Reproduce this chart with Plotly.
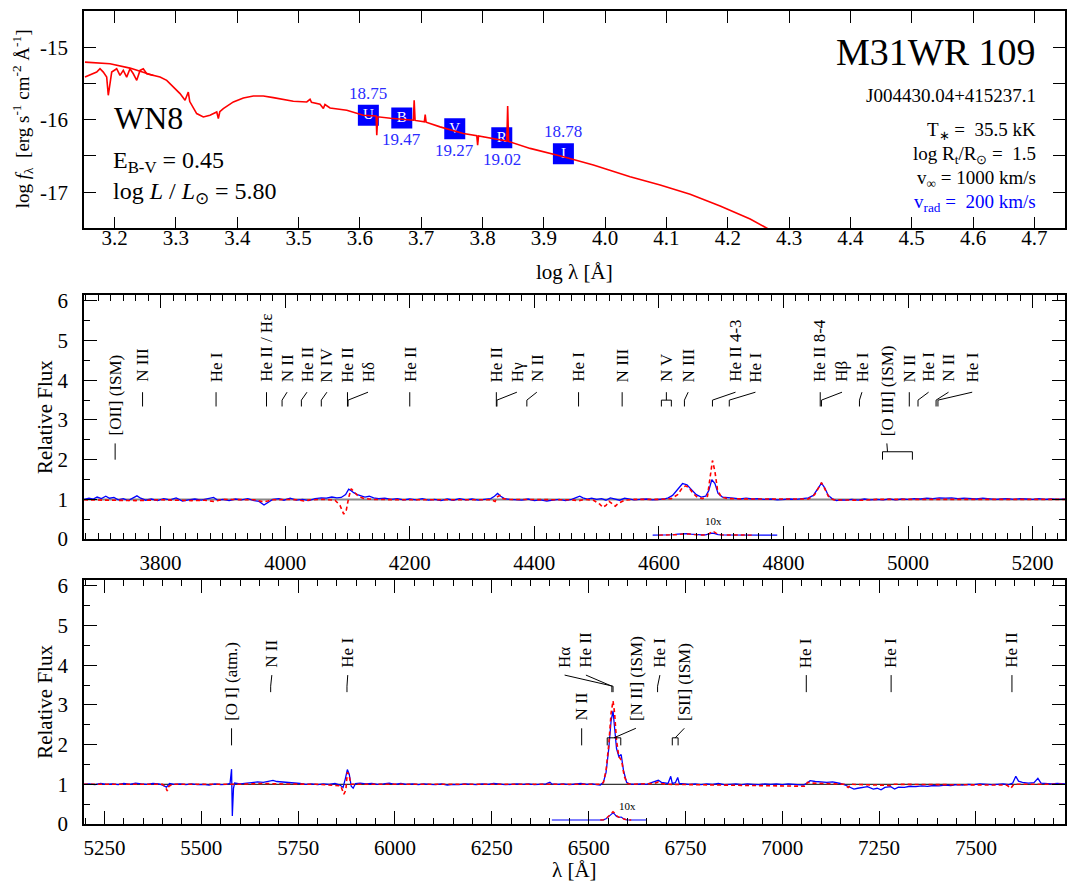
import plotly.graph_objects as go

FONT = "Liberation Serif"

# ---------------- data: top panel (SED) ----------------
SED_SMOOTH = [[3.1516, -15.206], [3.1924, -15.228], [3.225, -15.288], [3.2467, -15.343], [3.2631, -15.389]]
SED_MODEL = [
    [3.1516, -15.412], [3.1598, -15.38], [3.1707, -15.343], [3.1761, -15.297], [3.1815, -15.343],
    [3.187, -15.412], [3.1896, -15.663], [3.1952, -15.343], [3.2033, -15.297], [3.2087, -15.389],
    [3.2141, -15.32], [3.2196, -15.412], [3.225, -15.297], [3.2304, -15.366], [3.236, -15.457],
    [3.2414, -15.32], [3.2467, -15.297], [3.2523, -15.366], [3.2631, -15.389], [3.274, -15.412],
    [3.2849, -15.457], [3.2957, -15.549], [3.3066, -15.64], [3.3148, -15.732], [3.3201, -15.618],
    [3.3225, -15.75], [3.3257, -15.80], [3.3338, -15.915], [3.3446, -15.962], [3.3555, -15.938],
    [3.3665, -15.893], [3.3691, -15.984], [3.3715, -15.89], [3.3772, -15.846], [3.3936, -15.755],
    [3.4099, -15.70], [3.4262, -15.673], [3.4425, -15.673], [3.4588, -15.695], [3.4751, -15.723],
    [3.4914, -15.746], [3.5133, -15.755], [3.5187, -15.718], [3.521, -15.76], [3.535, -15.787],
    [3.5404, -15.846], [3.543, -15.79], [3.5513, -15.838], [3.5786, -15.87], [3.6056, -15.938],
    [3.6265, -15.95], [3.6275, -16.213], [3.629, -15.96], [3.65, -15.98], [3.668, -15.99],
    [3.6872, -16.007], [3.6885, -15.732], [3.69, -16.01], [3.7051, -16.03], [3.7065, -15.929],
    [3.708, -16.035], [3.7308, -16.099], [3.7688, -16.19], [3.7906, -16.22], [3.792, -16.35],
    [3.7935, -16.225], [3.8396, -16.295], [3.841, -15.81], [3.8425, -16.30], [3.8776, -16.396],
    [3.9319, -16.511], [3.9808, -16.625], [4.0407, -16.786], [4.0897, -16.90], [4.1386, -17.03],
    [4.1875, -17.19], [4.2365, -17.37], [4.2772, -17.55], [4.318, -17.75],
]
PHOT_BAND = ["U", "B", "V", "R", "I"]
PHOT_LOGLAM = [3.6138, 3.6683, 3.7547, 3.8314, 3.9319]
PHOT_LOGF = [-15.938, -15.975, -16.126, -16.25, -16.47]
PHOT_MAG = ["18.75", "19.47", "19.27", "19.02", "18.78"]
PHOT_MAG_SIDE = [1, -1, -1, -1, 1]

# ---------------- data: middle panel (blue spectrum) ----------------
MID_OBS = [
    [3677, 1.00], [3685, 1.03], [3692, 1.01], [3698, 1.06], [3705, 1.02], [3712, 1.08], [3718, 1.03],
    [3725, 1.05], [3732, 0.99], [3740, 1.02], [3748, 0.97], [3755, 1.04], [3762, 1.09], [3768, 1.03],
    [3776, 0.98], [3785, 1.01], [3795, 0.97], [3805, 1.02], [3815, 0.99], [3825, 1.04], [3835, 0.96],
    [3845, 0.99], [3855, 1.01], [3865, 0.98], [3875, 1.02], [3885, 1.05], [3892, 0.98], [3900, 1.00],
    [3910, 0.97], [3920, 1.01], [3930, 0.99], [3940, 1.02], [3950, 0.97], [3958, 0.95], [3966, 0.86],
    [3972, 0.92], [3980, 1.00], [3990, 1.02], [3998, 0.98], [4008, 1.03], [4018, 0.98], [4028, 1.00],
    [4038, 0.97], [4048, 1.02], [4058, 1.04], [4066, 1.03], [4075, 1.06], [4083, 1.04], [4090, 1.05],
    [4097, 1.12], [4102, 1.26], [4106, 1.22], [4110, 1.17], [4116, 1.12], [4122, 1.08], [4128, 1.06],
    [4135, 1.08], [4142, 1.04], [4150, 1.02], [4160, 1.03], [4170, 1.00], [4180, 1.02], [4190, 0.99],
    [4200, 1.01], [4210, 0.99], [4220, 1.02], [4230, 0.98], [4240, 1.00], [4250, 0.97], [4260, 1.01],
    [4270, 0.98], [4280, 1.02], [4290, 0.99], [4300, 1.01], [4310, 0.98], [4320, 1.00], [4330, 1.02],
    [4336, 1.08], [4341, 1.15], [4346, 1.08], [4352, 1.02], [4360, 1.00], [4370, 0.99], [4380, 0.98],
    [4390, 1.01], [4400, 0.97], [4410, 0.99], [4420, 0.96], [4430, 0.98], [4440, 1.00], [4450, 0.97],
    [4460, 1.00], [4468, 1.05], [4473, 1.08], [4478, 1.04], [4485, 1.01], [4492, 1.03], [4500, 1.00],
    [4508, 1.02], [4515, 0.98], [4522, 1.04], [4530, 1.01], [4537, 0.98], [4545, 1.03], [4552, 1.02],
    [4560, 0.99], [4570, 1.00], [4580, 1.01], [4590, 0.99], [4600, 1.00], [4608, 1.01], [4615, 1.04],
    [4622, 1.10], [4630, 1.25], [4638, 1.40], [4645, 1.37], [4652, 1.25], [4660, 1.12], [4668, 1.06],
    [4675, 1.08], [4680, 1.22], [4685, 1.50], [4690, 1.40], [4695, 1.15], [4702, 1.06], [4710, 1.04],
    [4720, 1.03], [4730, 1.01], [4740, 1.03], [4750, 1.01], [4760, 1.02], [4770, 1.00], [4780, 1.01],
    [4790, 0.99], [4800, 1.00], [4810, 1.01], [4820, 1.00], [4830, 1.02], [4840, 1.04], [4848, 1.10],
    [4855, 1.28], [4861, 1.41], [4866, 1.30], [4872, 1.10], [4878, 1.02], [4885, 0.97], [4892, 0.99],
    [4900, 0.98], [4910, 1.00], [4920, 0.98], [4930, 1.01], [4940, 0.99], [4950, 1.00], [4960, 0.99],
    [4970, 1.01], [4980, 0.99], [4990, 1.01], [5000, 1.00], [5010, 1.02], [5020, 1.01], [5030, 1.03],
    [5040, 1.02], [5050, 1.04], [5060, 1.03], [5070, 1.04], [5080, 1.02], [5090, 1.03], [5100, 1.02],
    [5110, 1.01], [5120, 1.03], [5130, 1.02], [5140, 1.00], [5150, 1.01], [5160, 1.02], [5170, 1.00],
    [5180, 1.02], [5190, 1.01], [5200, 1.00], [5210, 1.02], [5220, 1.00], [5230, 1.01], [5240, 1.00],
    [5252, 1.01],
]
# middle panel (red dashed model)
MID_MOD = [
    [3677, 0.99], [3720, 0.97], [3760, 0.97], [3780, 0.98], [3800, 0.99], [3850, 0.97], [3870, 0.98],
    [3885, 0.95], [3890, 0.97], [3900, 1.00], [3950, 0.99], [3965, 0.94], [3972, 0.96], [3980, 0.99],
    [4000, 1.00], [4020, 0.99], [4030, 0.96], [4040, 0.99], [4060, 1.00], [4080, 0.98], [4088, 0.85],
    [4094, 0.63], [4098, 0.72], [4102, 1.05], [4106, 1.27], [4110, 1.20], [4116, 1.10], [4125, 1.03],
    [4140, 1.00], [4200, 0.99], [4300, 1.00], [4330, 0.99], [4337, 0.95], [4341, 1.07], [4345, 1.10],
    [4350, 1.02], [4360, 1.00], [4400, 0.99], [4460, 0.99], [4471, 0.96], [4480, 1.00], [4495, 0.98],
    [4505, 0.88], [4510, 0.80], [4515, 0.85], [4520, 0.95], [4525, 0.88], [4530, 0.83], [4535, 0.90],
    [4545, 0.98], [4560, 1.00], [4600, 1.00], [4620, 1.02], [4630, 1.12], [4638, 1.30], [4643, 1.34],
    [4648, 1.30], [4655, 1.15], [4662, 1.05], [4670, 1.02], [4678, 1.08], [4682, 1.50], [4686, 1.98],
    [4690, 1.70], [4694, 1.25], [4700, 1.06], [4710, 1.02], [4750, 1.01], [4800, 1.00], [4840, 1.01],
    [4850, 1.12], [4856, 1.30], [4861, 1.42], [4866, 1.28], [4872, 1.08], [4880, 0.99], [4920, 0.97],
    [4925, 0.98], [4950, 1.00], [5000, 1.00], [5015, 0.99], [5050, 1.00], [5100, 1.00], [5252, 1.00],
]
MID_INSET_RANGE = [4586, 4790]
MID_10X_AT = 4688

# ---------------- data: bottom panel ----------------
BOT_OBS = [
    [5197, 1.00], [5210, 1.01], [5225, 0.99], [5240, 1.02], [5255, 1.00], [5270, 1.01], [5285, 0.99],
    [5300, 1.02], [5315, 1.00], [5330, 1.03], [5345, 1.01], [5360, 1.00], [5375, 1.02], [5390, 1.01],
    [5400, 0.98], [5410, 0.93], [5418, 1.02], [5430, 1.00], [5445, 1.01], [5460, 0.99], [5475, 1.01],
    [5490, 0.99], [5505, 1.00], [5520, 0.98], [5535, 1.01], [5550, 0.99], [5565, 1.00], [5574, 1.02],
    [5578, 1.38], [5580, 0.20], [5583, 0.90], [5586, 1.03], [5600, 1.01], [5615, 1.03], [5630, 1.04],
    [5645, 1.06], [5660, 1.05], [5675, 1.07], [5685, 1.10], [5695, 1.07], [5710, 1.06], [5725, 1.05],
    [5740, 1.04], [5755, 1.02], [5770, 1.00], [5785, 1.01], [5800, 0.99], [5815, 1.01], [5830, 1.00],
    [5845, 1.02], [5858, 0.98], [5866, 0.92], [5872, 1.15], [5877, 1.37], [5882, 1.25], [5887, 0.95],
    [5892, 0.90], [5898, 1.02], [5910, 1.03], [5925, 1.01], [5940, 1.02], [5955, 1.00], [5970, 1.01],
    [5985, 1.03], [6000, 1.00], [6015, 1.02], [6030, 1.00], [6045, 1.01], [6060, 0.99], [6075, 1.01],
    [6090, 1.00], [6105, 0.99], [6120, 1.01], [6135, 0.98], [6150, 1.00], [6165, 0.99], [6180, 1.01],
    [6195, 1.00], [6210, 0.99], [6225, 1.01], [6240, 1.00], [6255, 1.02], [6270, 1.00], [6285, 0.99],
    [6300, 1.00], [6315, 1.01], [6330, 1.00], [6345, 1.01], [6360, 0.99], [6375, 1.00], [6390, 1.01],
    [6400, 1.05], [6405, 1.01], [6420, 1.00], [6435, 1.01], [6450, 0.99], [6465, 1.00], [6480, 1.02],
    [6495, 1.00], [6510, 1.01], [6520, 0.99], [6530, 0.98], [6538, 1.05], [6545, 1.30], [6552, 1.90],
    [6558, 2.60], [6563, 2.85], [6567, 2.50], [6572, 1.90], [6578, 1.70], [6584, 1.75], [6590, 1.35],
    [6598, 1.05], [6605, 1.01], [6620, 1.00], [6635, 1.01], [6650, 1.00], [6662, 1.04], [6672, 1.08],
    [6680, 1.10], [6688, 1.05], [6695, 1.03], [6705, 1.02], [6712, 1.20], [6716, 1.02], [6724, 1.04],
    [6730, 1.17], [6734, 1.02], [6745, 1.01], [6760, 1.00], [6775, 1.01], [6790, 0.99], [6805, 1.01],
    [6820, 1.00], [6835, 1.02], [6850, 0.99], [6865, 1.00], [6880, 1.01], [6895, 0.99], [6910, 1.01],
    [6925, 1.00], [6940, 0.99], [6955, 1.01], [6970, 1.00], [6985, 1.01], [7000, 0.99], [7015, 1.01],
    [7030, 1.00], [7045, 0.99], [7055, 0.98], [7065, 1.04], [7072, 1.09], [7085, 1.07], [7100, 1.06],
    [7115, 1.05], [7130, 1.06], [7140, 1.04], [7150, 1.02], [7165, 0.97], [7175, 0.92], [7185, 0.88],
    [7195, 0.90], [7205, 0.91], [7220, 0.94], [7235, 0.88], [7245, 0.90], [7255, 0.86], [7265, 0.92],
    [7280, 0.94], [7290, 0.88], [7300, 0.93], [7315, 0.92], [7330, 0.95], [7345, 0.94], [7360, 0.96],
    [7375, 0.95], [7390, 0.97], [7405, 0.96], [7420, 0.98], [7435, 0.97], [7450, 0.99], [7465, 0.98],
    [7480, 1.00], [7495, 0.99], [7510, 1.01], [7525, 1.00], [7540, 0.99], [7555, 1.00], [7570, 1.01],
    [7585, 0.99], [7595, 1.03], [7603, 1.20], [7610, 1.08], [7620, 1.05], [7635, 1.03], [7650, 1.04],
    [7660, 1.15], [7668, 1.03], [7680, 1.02], [7695, 1.01], [7710, 1.02], [7730, 1.01],
]
BOT_MOD = [
    [5197, 1.00], [5400, 1.00], [5408, 0.92], [5412, 0.83], [5416, 0.95], [5425, 1.00], [5600, 1.00],
    [5660, 1.02], [5700, 1.01], [5800, 1.00], [5860, 0.96], [5868, 0.75], [5873, 0.85], [5877, 1.30],
    [5881, 1.25], [5886, 1.00], [5895, 1.00], [6000, 1.00], [6530, 1.00], [6538, 1.04], [6545, 1.35],
    [6552, 2.00], [6558, 2.80], [6563, 3.10], [6567, 2.80], [6572, 2.10], [6578, 1.70], [6585, 1.60],
    [6592, 1.20], [6600, 1.02], [6610, 1.00], [6670, 1.02], [6680, 1.06], [6688, 1.02], [6700, 1.00],
    [7060, 0.95], [7065, 1.05], [7075, 1.03], [7100, 1.02], [7160, 1.00], [7170, 0.92], [7178, 1.00],
    [7280, 0.97], [7285, 1.00], [7580, 0.98], [7590, 0.90], [7598, 1.00], [7730, 1.00],
]
BOT_INSET_RANGE = [6404, 6651]
BOT_10X_AT = 6600

# line identifications: (label, line wavelengths, label wavelength, level)
MID_IDS = [
    ("[OII] (ISM)", [3727], 3727, "low"),
    ("N III", [3771], 3771, "high"),
    ("He I", [3889], 3889, "high"),
    ("He II / Hε", [3970], 3970, "high"),
    ("N II", [3995], 4003, "high"),
    ("He II", [4026], 4035, "high"),
    ("N IV", [4058], 4067, "high"),
    ("He II", [4100], 4100, "high"),
    ("Hδ", [4101], 4133, "high"),
    ("He II", [4200], 4200, "high"),
    ("He II", [4339], 4339, "high"),
    ("Hγ", [4340], 4372, "high"),
    ("N II", [4388], 4404, "high"),
    ("He I", [4471], 4471, "high"),
    ("N III", [4541], 4541, "high"),
    ("N V", [4604, 4620], 4612, "high"),
    ("N III", [4641], 4647, "high"),
    ("He II 4-3", [4686], 4723, "high"),
    ("He I", [4713], 4755, "high"),
    ("He II 8-4", [4859], 4859, "high"),
    ("Hβ", [4861], 4894, "high"),
    ("He I", [4922], 4926, "high"),
    ("[O III] (ISM)", [4959, 5007], 4966, "low"),
    ("N II", [5002], 5002, "high"),
    ("He I", [5016], 5033, "high"),
    ("N II", [5045], 5065, "high"),
    ("He I", [5048], 5103, "high"),
]
BOT_IDS = [
    ("[O I] (atm.)", [5578], 5578, "low"),
    ("N II", [5679], 5682, "high"),
    ("He I", [5876], 5878, "high"),
    ("N II", [6482], 6482, "low"),
    ("Hα", [6563], 6438, "high"),
    ("He II", [6560], 6493, "high"),
    ("[N II] (ISM)", [6548, 6583], 6622, "low"),
    ("He I", [6678], 6684, "high"),
    ("[SII] (ISM)", [6716, 6731], 6747, "low"),
    ("He I", [7062], 7062, "high"),
    ("He I", [7281], 7281, "high"),
    ("He II", [7593], 7593, "high"),
]

# ---------------- figure ----------------
fig = go.Figure()
BLUE = "#0000ff"
RED = "#ff0000"

# top panel
fig.add_trace(go.Scatter(
    x=PHOT_LOGLAM, y=PHOT_LOGF, mode="markers+text", text=PHOT_BAND,
    textposition="middle center", textfont=dict(family=FONT, size=15, color="white"),
    marker=dict(symbol="square", size=21, color=BLUE), xaxis="x", yaxis="y", hoverinfo="skip"))
fig.add_trace(go.Scatter(x=[p[0] for p in SED_SMOOTH], y=[p[1] for p in SED_SMOOTH], mode="lines",
                         line=dict(color=RED, width=1.6), xaxis="x", yaxis="y", hoverinfo="skip"))
fig.add_trace(go.Scatter(x=[p[0] for p in SED_MODEL], y=[p[1] for p in SED_MODEL], mode="lines",
                         line=dict(color=RED, width=1.6), xaxis="x", yaxis="y", hoverinfo="skip"))

annotations = []
for lx, ly, m, s in zip(PHOT_LOGLAM, PHOT_LOGF, PHOT_MAG, PHOT_MAG_SIDE):
    annotations.append(dict(x=lx, y=ly, xref="x", yref="y", text=m, showarrow=False,
                            yshift=22 * s, font=dict(family=FONT, size=17, color="#2b2bff")))


def panel(obs, mod, inset, tenx, ids, xa, ya, lv):
    ox = [p[0] for p in obs]; oy = [p[1] for p in obs]
    mx = [p[0] for p in mod]; my = [p[1] for p in mod]
    fig.add_trace(go.Scatter(x=ox, y=oy, mode="lines", line=dict(color=BLUE, width=1.3),
                             xaxis=xa, yaxis=ya, hoverinfo="skip"))
    fig.add_trace(go.Scatter(x=mx, y=my, mode="lines", line=dict(color=RED, width=1.6, dash="4px,3px"),
                             xaxis=xa, yaxis=ya, hoverinfo="skip"))
    # 10x inset (fluxes divided by ten)
    io = [(x, y / 10) for x, y in obs if inset[0] <= x <= inset[1]]
    im = [(x, y / 10) for x, y in mod if inset[0] <= x <= inset[1]]
    fig.add_trace(go.Scatter(x=[p[0] for p in io], y=[p[1] for p in io], mode="lines",
                             line=dict(color=BLUE, width=1.2), xaxis=xa, yaxis=ya, hoverinfo="skip"))
    fig.add_trace(go.Scatter(x=[p[0] for p in im], y=[p[1] for p in im], mode="lines",
                             line=dict(color=RED, width=1.4, dash="4px,3px"), xaxis=xa, yaxis=ya,
                             hoverinfo="skip"))
    # connectors
    cx, cy = [], []
    for text, lines, lab, level in ids:
        if level == "high":
            y0, ym, y1, yt = lv["Y0"], lv["YM"], lv["Y1"], lv["YT"]
        else:
            y0, ym, y1, yt = lv["L0"], lv["LM"], lv["L1"], lv["LT"]
        if len(lines) == 1:
            l = lines[0]
            if level == "high":
                cx += [l, l, lab, None]; cy += [y0, ym, y1, None]
            else:
                cx += [l, l, lab, None]; cy += [y0, (y0 + y1) / 2, y1, None]
        else:
            a, b = lines
            cx += [a, a, b, b, None]; cy += [y0, ym, ym, y0, None]
            stem = (a + b) / 2 if level == "high" else (a + 8 if lab < b else (a + b) / 2)
            cx += [stem, lab, None]; cy += [ym, y1, None]
        annotations.append(dict(x=lab, y=yt, xref=xa, yref=ya, text=text, showarrow=False,
                                textangle=-90, xanchor="center", yanchor="bottom",
                                font=dict(family=FONT, size=17, color="black")))
    fig.add_trace(go.Scatter(x=cx, y=cy, mode="lines", line=dict(color="black", width=1),
                             xaxis=xa, yaxis=ya, hoverinfo="skip"))
    annotations.append(dict(x=tenx, y=0.45, xref=xa, yref=ya, text="10x", showarrow=False,
                            font=dict(family=FONT, size=11, color="black")))


panel(MID_OBS, MID_MOD, MID_INSET_RANGE, MID_10X_AT, MID_IDS, "x2", "y2",
      dict(Y0=3.34, YM=3.5, Y1=3.7, YT=3.9, L0=2.0, LM=2.2, L1=2.41, LT=2.55))
panel(BOT_OBS, BOT_MOD, BOT_INSET_RANGE, BOT_10X_AT, BOT_IDS, "x3", "y3",
      dict(Y0=3.32, YM=3.47, Y1=3.75, YT=3.88, L0=1.98, LM=2.17, L1=2.41, LT=2.55))

# texts (paper coords)
def ptxt(x, y, text, size, xanchor="left", color="black", angle=0):
    annotations.append(dict(x=x, y=y, xref="paper", yref="paper", text=text, showarrow=False,
                            xanchor=xanchor, yanchor="middle", textangle=angle,
                            font=dict(family=FONT, size=size, color=color)))

ptxt(0.0285, 0.8681, "WN8", 32)
ptxt(0.0275, 0.8144, "E<sub>B-V</sub> = 0.45", 24)
ptxt(0.0275, 0.7766, "log <i>L</i> / <i>L</i><sub>⊙</sub> = 5.80", 24)
ptxt(0.9725, 0.9499, "M31WR 109", 38, "right")
ptxt(0.9725, 0.8962, "J004430.04+415237.1", 19, "right")
ptxt(0.9725, 0.852, "T<sub>∗</sub> =  35.5 kK", 19, "right")
ptxt(0.9725, 0.8225, "log R<sub>t</sub>/R<sub>⊙</sub> =  1.5", 19, "right")
ptxt(0.9725, 0.7932, "v<sub>∞</sub> = 1000 km/s", 19, "right")
ptxt(0.9725, 0.7638, "v<sub>rad</sub> =  200 km/s", 19, "right", color=BLUE)
ptxt(0.5005, 0.6789, "log λ [Å]", 21, "center")
ptxt(0.5005, -0.056, "λ [Å]", 21, "center")
ptxt(-0.0632, 0.8669, "log <i>f</i><sub>λ</sub>  [erg s<sup>-1</sup> cm<sup>-2</sup> Å<sup>-1</sup>]", 19,
     "center", angle=-90)
ptxt(-0.0398, 0.5006, "Relative Flux", 21, "center", angle=-90)
ptxt(-0.0398, 0.1502, "Relative Flux", 21, "center", angle=-90)

base = dict(showline=True, linecolor="black", linewidth=1.5, mirror="ticks", ticks="inside",
            tickcolor="black", tickwidth=1.2, showgrid=False, zeroline=False,
            tickfont=dict(family=FONT, size=21, color="black"))

shapes = [
    dict(type="line", xref="x2 domain", yref="y2", x0=0, x1=1, y0=1, y1=1,
         line=dict(color="#888888", width=2), layer="below"),
    dict(type="line", xref="x3 domain", yref="y3", x0=0, x1=1, y0=1, y1=1,
         line=dict(color="black", width=1), layer="below"),
]

fig.update_layout(
    width=1072, height=885, margin=dict(l=84, r=7, t=5, b=61),
    paper_bgcolor="white", plot_bgcolor="white", showlegend=False,
    font=dict(family=FONT, color="black"),
    xaxis=dict(base, domain=[0, 1], anchor="y", range=[3.15, 4.75], tick0=0, dtick=0.1,
               tickformat=".1f", ticklen=12, ticklabelstandoff=-10),
    yaxis=dict(base, domain=[0.7326, 1.0], anchor="x", range=[-17.5, -14.5],
               tickvals=[-17, -16, -15], ticktext=["-17", "-16", "-15"], ticklen=12,
               ticklabelstandoff=10,
               minor=dict(tickvals=[-17.5, -16.5, -15.5], ticklen=12, ticks="inside",
                          tickcolor="black", tickwidth=1.2)),
    xaxis2=dict(base, domain=[0, 1], anchor="y2", range=[3677, 5252], tick0=0, dtick=200,
                ticklen=13, ticklabelstandoff=4,
                minor=dict(dtick=20, ticklen=6, ticks="inside", tickcolor="black", tickwidth=1)),
    yaxis2=dict(base, domain=[0.3504, 0.6508], anchor="x2", range=[0, 6.15], dtick=1, ticklen=13,
                ticklabelstandoff=10,
                minor=dict(dtick=0.5, ticklen=6, ticks="inside", tickcolor="black", tickwidth=1)),
    xaxis3=dict(base, domain=[0, 1], anchor="y3", range=[5197, 7730], tick0=0, dtick=250,
                ticklen=13, ticklabelstandoff=4,
                minor=dict(dtick=50, ticklen=6, ticks="inside", tickcolor="black", tickwidth=1)),
    yaxis3=dict(base, domain=[0, 0.3004], anchor="x3", range=[0, 6.15], dtick=1, ticklen=13,
                ticklabelstandoff=10,
                minor=dict(dtick=0.5, ticklen=6, ticks="inside", tickcolor="black", tickwidth=1)),
    annotations=annotations, shapes=shapes,
)

fig.write_html("out.html")
